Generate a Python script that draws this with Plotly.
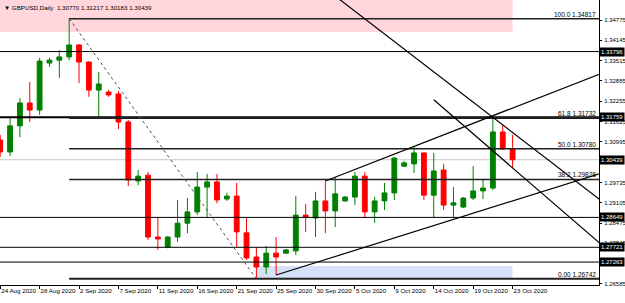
import plotly.graph_objects as go

# ---------------- data ----------------
dates = ["2020-08-24","2020-08-25","2020-08-26","2020-08-27","2020-08-28","2020-08-30","2020-08-31",
         "2020-09-01","2020-09-02","2020-09-03","2020-09-04","2020-09-06","2020-09-07","2020-09-08",
         "2020-09-09","2020-09-10","2020-09-11","2020-09-13","2020-09-14","2020-09-15","2020-09-16",
         "2020-09-17","2020-09-18","2020-09-20","2020-09-21","2020-09-22","2020-09-23","2020-09-24",
         "2020-09-25","2020-09-27","2020-09-28","2020-09-29","2020-09-30","2020-10-01","2020-10-02",
         "2020-10-04","2020-10-05","2020-10-06","2020-10-07","2020-10-08","2020-10-09","2020-10-11",
         "2020-10-12","2020-10-13","2020-10-14","2020-10-15","2020-10-16","2020-10-18","2020-10-19",
         "2020-10-20","2020-10-21","2020-10-22","2020-10-23"]

opens = [1.3105, 1.3068, 1.3149, 1.3220, 1.3198, 1.3344, 1.3353, 1.3363, 1.3400, 1.3347,
         1.3260, 1.3254, 1.3248, 1.3161, 1.2978, 1.2996, 1.2804, 1.2773, 1.2804, 1.2847,
         1.2882, 1.2959, 1.2975, 1.2922, 1.2931, 1.2817, 1.2742, 1.2711, 1.2754, 1.2754,
         1.2761, 1.2872, 1.2863, 1.2916, 1.2885, 1.2916, 1.2928, 1.2993, 1.2882, 1.2916,
         1.2941, 1.3024, 1.3031, 1.3065, 1.2934, 1.3012, 1.2903, 1.2897, 1.2925, 1.2947,
         1.2956, 1.3130, 1.30770]
highs = [1.3121, 1.3173, 1.3235, 1.3285, 1.3360, 1.3360, 1.3384, 1.34817, 1.3402, 1.3349,
         1.3316, 1.3260, 1.3257, 1.3167, 1.3012, 1.3006, 1.2863, 1.2807, 1.2919, 1.2925,
         1.3006, 1.3000, 1.3000, 1.2941, 1.2972, 1.2863, 1.2773, 1.2776, 1.2804, 1.2767,
         1.2931, 1.2907, 1.2944, 1.2978, 1.2990, 1.2931, 1.3006, 1.3006, 1.2928, 1.2972,
         1.3052, 1.3040, 1.3087, 1.3066, 1.3065, 1.3031, 1.2959, 1.2928, 1.3024, 1.2981,
         1.3176, 1.3152, 1.31217]
lows = [1.3053, 1.3055, 1.3114, 1.3161, 1.3183, 1.3332, 1.3298, 1.3353, 1.3282, 1.3239,
        1.3177, 1.3239, 1.3139, 1.2962, 1.2965, 1.2795, 1.2764, 1.2769, 1.2789, 1.2816,
        1.2872, 1.2866, 1.2909, 1.2916, 1.2773, 1.2733, 1.26742, 1.2689, 1.2686, 1.2751,
        1.2748, 1.2820, 1.2804, 1.2816, 1.2835, 1.2913, 1.2903, 1.2866, 1.2848, 1.2888,
        1.2919, 1.3021, 1.3003, 1.2919, 1.2863, 1.2888, 1.2863, 1.2894, 1.2919, 1.2922,
        1.2950, 1.3074, 1.30183]
closes = [1.3068, 1.3149, 1.3220, 1.3198, 1.3350, 1.3353, 1.3363, 1.3400, 1.3347, 1.3260,
          1.3279, 1.3245, 1.3161, 1.2981, 1.2993, 1.2804, 1.2798, 1.2804, 1.2847, 1.2882,
          1.2959, 1.2975, 1.2919, 1.2931, 1.2820, 1.2739, 1.2711, 1.2754, 1.2742, 1.2764,
          1.2872, 1.2866, 1.2916, 1.2885, 1.2938, 1.2928, 1.2993, 1.2882, 1.2916, 1.2941,
          1.3049, 1.3034, 1.3065, 1.2934, 1.3009, 1.2903, 1.2910, 1.2925, 1.2947, 1.2956,
          1.3130, 1.3077, 1.30439]

tick_dates = ["2020-08-24","2020-08-28","2020-09-02","2020-09-07","2020-09-11","2020-09-16","2020-09-21",
              "2020-09-25","2020-09-30","2020-10-05","2020-10-09","2020-10-14","2020-10-19","2020-10-23"]
tick_labels = ["24 Aug 2020","28 Aug 2020","2 Sep 2020","7 Sep 2020","11 Sep 2020","16 Sep 2020",
               "21 Sep 2020","25 Sep 2020","30 Sep 2020","5 Oct 2020","9 Oct 2020","14 Oct 2020",
               "19 Oct 2020","23 Oct 2020"]

# visible price scale labels (1.30365 and 1.27215 are hidden behind highlighted boxes)
price_ticks = [1.34775, 1.34145, 1.33515, 1.32885, 1.32255, 1.31625, 1.30995,
               1.29735, 1.29105, 1.28475, 1.27845, 1.26585]

h_levels = [1.33796, 1.31759, 1.28649, 1.27721, 1.27263]
h_widths = [1, 2, 1, 1, 1]
last_price = 1.30439

fib_start = "2020-09-01"
fib_prices = [1.34817, 1.31732, 1.30780, 1.29828, 1.26742]
fib_texts = ["100.0 1.34817", "61.8 1.31732", "50.0 1.30780", "38.2 1.29828", "0.00 1.26742"]
fib_widths = [1.5, 2, 1.5, 1.5, 2]
fib_diag = [("2020-09-01", 1.34817), ("2020-09-23", 1.26742)]

# trend lines: (bar index A, price A, bar index B, price B, extend left of A?)
trend_lines = [
    (34.5, 1.3540, 60.8, 1.2921, True),     # descending line touching the Oct 21 high
    (44.0, 1.3230, 60.8, 1.2786, False),    # parallel descending line
    (33.0, 1.2978, 50.2, 1.3183, False),    # upper channel ray
    (28.0, 1.2686, 49.7, 1.2894, False),    # lower channel ray
]

pink_zone = ("2020-08-24", "2020-10-23", 1.34403, 1.3600)
blue_zone = ("2020-09-23", "2020-10-23", 1.26742, 1.27140)

header = "▼ GBPUSD,Daily  1.30770 1.31217 1.30183 1.30439"

# ---------------- figure ----------------
xs = list(range(len(dates)))
idx = {d: i for i, d in enumerate(dates)}
XMIN, XMAX = -0.02, 60.77
YMIN, YMAX = 1.26551, 1.35396
FONT = "Liberation Sans, Arial, sans-serif"

fig = go.Figure()
fig.add_trace(go.Candlestick(
    x=xs, open=opens, high=highs, low=lows, close=closes,
    increasing=dict(line=dict(color="#008000", width=1), fillcolor="#008000"),
    decreasing=dict(line=dict(color="#FF0000", width=1), fillcolor="#FF0000"),
    whiskerwidth=0, hoverinfo="skip", showlegend=False))

shapes = []
for z, col in [(pink_zone, "#FFD6DC"), (blue_zone, "#D6E0F6")]:
    x0 = idx[z[0]] if z[0] != dates[0] else XMIN - 2
    shapes.append(dict(type="rect", xref="x", yref="y", x0=x0, x1=idx[z[1]], y0=z[2], y1=z[3],
                       fillcolor=col, line=dict(width=0), layer="below"))
for p, w in zip(h_levels, h_widths):
    shapes.append(dict(type="line", xref="x", yref="y", x0=XMIN - 2, x1=XMAX + 2, y0=p, y1=p,
                       line=dict(color="black", width=w), layer="above"))
shapes.append(dict(type="line", xref="x", yref="y", x0=XMIN - 2, x1=XMAX + 2, y0=last_price, y1=last_price,
                   line=dict(color="#C8C8C8", width=1), layer="below"))
for p, w in zip(fib_prices, fib_widths):
    shapes.append(dict(type="line", xref="x", yref="y", x0=idx[fib_start], x1=XMAX + 2, y0=p, y1=p,
                       line=dict(color="#202020", width=w), layer="above"))
shapes.append(dict(type="line", xref="x", yref="y",
                   x0=idx[fib_diag[0][0]], y0=fib_diag[0][1], x1=idx[fib_diag[1][0]], y1=fib_diag[1][1],
                   line=dict(color="#505050", width=1, dash="dot"), layer="above"))
for (xa, ya, xb, yb, left) in trend_lines:
    slope = (yb - ya) / (xb - xa)
    x0 = XMIN - 40 if left else xa
    x1 = XMAX + 5
    shapes.append(dict(type="line", xref="x", yref="y",
                       x0=x0, y0=ya + slope * (x0 - xa), x1=x1, y1=ya + slope * (x1 - xa),
                       line=dict(color="black", width=1.2), layer="above"))

annotations = [dict(text=header, xref="paper", yref="paper", x=0.004, y=1 - 8 / 285,
                    xanchor="left", yanchor="middle", showarrow=False,
                    font=dict(family=FONT, size=6.2, color="black"))]
for p, t in zip(fib_prices, fib_texts):
    annotations.append(dict(text=t, xref="paper", yref="y", x=598 / 599, y=p, xanchor="right",
                            yanchor="bottom", showarrow=False, yshift=-1,
                            font=dict(family=FONT, size=6.5, color="black")))
for p in h_levels + [last_price]:
    annotations.append(dict(text=f"{p:.5f}", xref="paper", yref="y", x=1, y=p, xanchor="left",
                            yanchor="middle", showarrow=False, xshift=0, bgcolor="black",
                            borderpad=1, font=dict(family=FONT, size=6, color="white")))

fig.update_layout(
    width=625, height=303, margin=dict(l=0, r=26, t=0, b=18, autoexpand=False),
    paper_bgcolor="white", plot_bgcolor="white",
    shapes=shapes, annotations=annotations, showlegend=False,
    xaxis=dict(range=[XMIN, XMAX], tickvals=[idx[d] for d in tick_dates], ticktext=tick_labels,
               ticks="outside", ticklen=3, tickcolor="black", showgrid=False, zeroline=False,
               showline=True, linecolor="black", linewidth=1, mirror=True, tickangle=0,
               automargin=False, ticklabelposition="outside right", rangeslider=dict(visible=False),
               tickfont=dict(family=FONT, size=6.2, color="black")),
    yaxis=dict(range=[YMIN, YMAX], side="right", tickvals=price_ticks,
               ticktext=[f"{v:.5f}" for v in price_ticks], ticks="outside", ticklen=2,
               tickcolor="black", showgrid=False, zeroline=False, showline=True, automargin=False,
               linecolor="black", linewidth=1, ticklabelstandoff=1,
               tickfont=dict(family=FONT, size=6, color="black")),
)

fig.write_html("out.html")
